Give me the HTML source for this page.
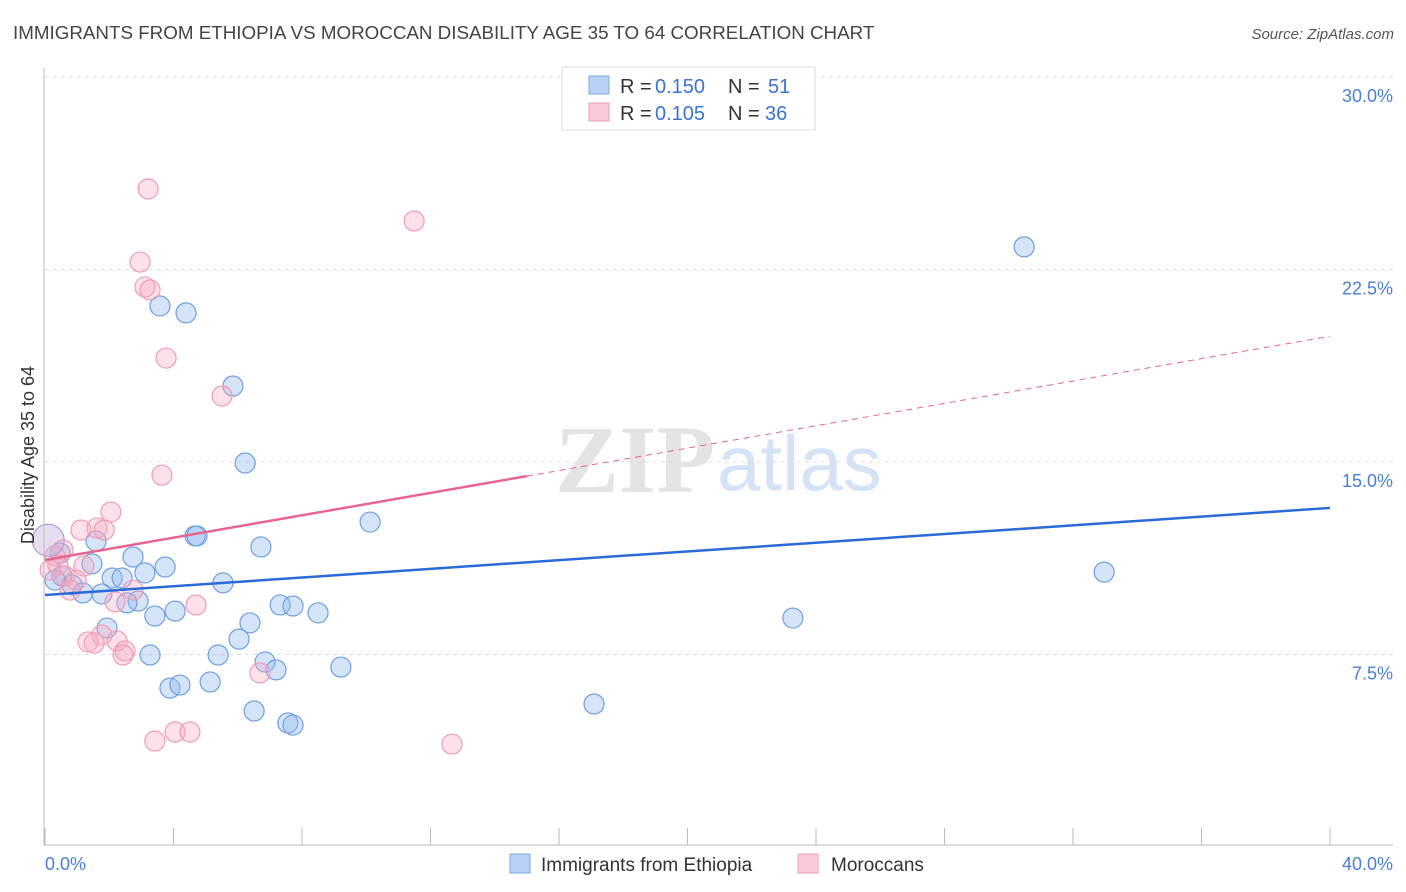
<!DOCTYPE html>
<html><head><meta charset="utf-8"><style>
body{margin:0;background:#fff;font-family:"Liberation Sans",sans-serif;}
svg{display:block}
</style></head><body>
<svg id="chart" width="1406" height="892">
<text x="13" y="39" font-size="18.8" fill="#444">IMMIGRANTS FROM ETHIOPIA VS MOROCCAN DISABILITY AGE 35 TO 64 CORRELATION CHART</text>
<text x="1394" y="39" font-size="15" fill="#555" font-style="italic" text-anchor="end">Source: ZipAtlas.com</text>
<g>
<text x="555" y="492" font-family="Liberation Serif,serif" font-size="96" fill="#e4e4e4" font-weight="bold">ZIP</text>
<text x="717" y="490" font-size="78" fill="#d6e3f5">atlas</text>
</g>
<g id="grid"></g>
<g id="axes"></g>
<g id="marks"></g>
<text transform="translate(34,455) rotate(-90)" font-size="18" fill="#333" text-anchor="middle">Disability Age 35 to 64</text>
<g>
<rect x="562" y="67" width="253" height="63" fill="#fff" stroke="#ddd"/>
<rect x="589" y="76" width="20" height="18" fill="#b9d3f6" stroke="#7aa7e3"/>
<text x="620" y="93" font-size="20" fill="#333">R =</text>
<text x="655" y="93" font-size="20" fill="#3b73d1">0.150</text>
<text x="728" y="93" font-size="20" fill="#333">N =</text>
<text x="768" y="93" font-size="20" fill="#3b73d1">51</text>
<rect x="589" y="103" width="20" height="18" fill="#fbc9d7" stroke="#eea0b7"/>
<text x="620" y="120" font-size="20" fill="#333">R =</text>
<text x="655" y="120" font-size="20" fill="#3b73d1">0.105</text>
<text x="728" y="120" font-size="20" fill="#333">N =</text>
<text x="765" y="120" font-size="20" fill="#3b73d1">36</text>
</g>
<g>
<rect x="510" y="854" width="20" height="19" fill="#b9d3f6" stroke="#7aa7e3"/>
<text x="541" y="871" font-size="19" fill="#333">Immigrants from Ethiopia</text>
<rect x="798" y="854" width="20" height="19" fill="#fbc9d7" stroke="#eea0b7"/>
<text x="831" y="871" font-size="19" fill="#333">Moroccans</text>
</g>
</svg>
<script>
const yTicks=[7.5,15,22.5,30];
const yTickLabels=["7.5%","15.0%","22.5%","30.0%"];
const xTickLabels=["0.0%","40.0%"];
const ethX=[3.58,4.39,5.85,6.23,30.48,10.12,4.67,4.73,1.59,6.72,2.74,3.74,1.46,3.11,0.53,2.09,2.40,5.54,0.84,1.18,1.77,2.90,2.55,7.32,7.72,8.50,3.42,4.05,6.38,1.93,6.04,3.27,5.39,6.85,7.19,9.21,5.14,3.89,4.20,6.51,7.56,7.72,17.09,23.28,32.97,0.31,0.47];
const ethY=[21.08,20.81,17.96,14.96,23.38,12.66,12.12,12.12,11.92,11.69,11.30,10.91,11.03,10.68,10.56,10.48,10.48,10.29,10.21,9.90,9.86,9.58,9.51,9.43,9.39,9.12,9.00,9.19,8.73,8.53,8.10,7.48,7.48,7.21,6.90,7.01,6.43,6.19,6.31,5.30,4.83,4.75,5.57,8.92,10.71,10.40,11.45];
const morX=[3.21,11.49,2.96,3.11,3.27,3.77,5.51,3.64,2.05,1.12,1.62,1.84,0.56,0.31,0.40,0.16,0.62,1.21,0.97,0.78,2.74,2.18,4.70,1.77,1.34,1.53,2.24,2.49,2.43,6.69,3.42,4.05,4.51,12.67];
const morY=[25.64,24.39,22.79,21.82,21.70,19.05,17.57,14.49,13.05,12.35,12.43,12.35,11.57,11.34,10.99,10.79,10.56,10.95,10.40,10.01,10.01,9.55,9.43,8.26,7.99,7.95,8.03,7.64,7.48,6.78,4.13,4.48,4.48,4.01];
const ethTrend=[9.82,13.21];
const morTrend=[11.18,19.9];
const morSolidEnd=15;

const X0=45,X1=1330,Y0=847,PPU=25.667;
const sx=v=>X0+(v/40)*(X1-X0);
const sy=v=>Y0-v*PPU;
const NS="http://www.w3.org/2000/svg";
function mk(tag,attrs,parent){const e=document.createElementNS(NS,tag);for(const k in attrs)e.setAttribute(k,attrs[k]);parent.appendChild(e);return e;}
const grid=document.getElementById('grid'),axes=document.getElementById('axes'),marks=document.getElementById('marks');
yTicks.forEach((t,i)=>{
 const l=mk('line',{x1:45,x2:1393,y1:sy(t),y2:sy(t),stroke:'#ddd','stroke-dasharray':'4,4'},grid);
 
 
 const tx=mk('text',{x:1393,y:sy(t)+25,'font-size':18,fill:'#4a7fd6','text-anchor':'end'},axes);
 tx.textContent=yTickLabels[i];
 
 
});
const ax=mk('line',{x1:44,x2:44,y1:68,y2:845,stroke:'#bbb'},axes);


const bx=mk('line',{x1:44,x2:1393,y1:845,y2:845,stroke:'#bbb'},axes);


for(let i=0;i<=10;i++){
 const t=mk('line',{x1:sx(i*4),x2:sx(i*4),y1:828,y2:845,stroke:'#bbb'},axes);
 
 
}
const xl0=mk('text',{x:45,y:870,'font-size':18,fill:'#4a7fd6'},axes);xl0.textContent=xTickLabels[0];


const xl1=mk('text',{x:1393,y:870,'font-size':18,fill:'#4a7fd6','text-anchor':'end'},axes);xl1.textContent=xTickLabels[1];



ethX.forEach((x,i)=>{
 const c=mk('circle',{cx:sx(x),cy:sy(ethY[i]),r:10,fill:'rgba(150,188,240,0.4)',stroke:'#6e9fe0','stroke-width':1.2},marks);
 
 
});
morX.forEach((x,i)=>{
 const c=mk('circle',{cx:sx(x),cy:sy(morY[i]),r:10,fill:'rgba(246,170,192,0.35)',stroke:'#f09cb6','stroke-width':1.2},marks);
 
 
});
const big=mk('circle',{cx:sx(0.1),cy:sy(11.95),r:16,fill:'rgba(200,180,220,0.45)',stroke:'#b0a0d0','stroke-width':1.2},marks);


const bt=mk('line',{x1:sx(0),y1:sy(ethTrend[0]),x2:sx(40),y2:sy(ethTrend[1]),stroke:'#2a6ad6','stroke-width':2.5},marks);


const mEnd=morTrend[0]+(morTrend[1]-morTrend[0])*morSolidEnd/40;
const pt=mk('line',{x1:sx(0),y1:sy(morTrend[0]),x2:sx(morSolidEnd),y2:sy(mEnd),stroke:'#e8648f','stroke-width':2.5},marks);


const pd=mk('line',{x1:sx(morSolidEnd),y1:sy(mEnd),x2:sx(40),y2:sy(morTrend[1]),stroke:'#e8648f','stroke-width':1,'stroke-dasharray':'6,5'},marks);


</script>
</body></html>
